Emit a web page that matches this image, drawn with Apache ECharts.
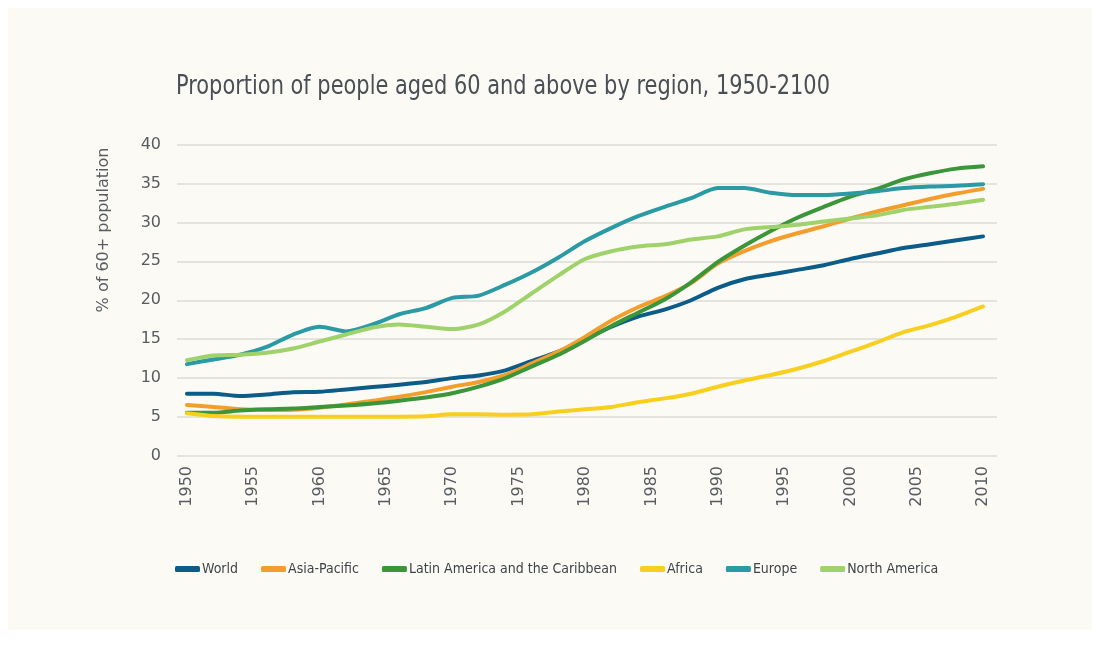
<!DOCTYPE html>
<html>
<head>
<meta charset="utf-8">
<script src="https://cdn.jsdelivr.net/npm/echarts@6/dist/echarts.min.js"></script>
<style>
  html, body { margin: 0; padding: 0; background: #ffffff; }
  #panel { position: absolute; left: 8px; top: 8px; width: 1084px; height: 622px; background: #fbfaf4; }
  #chart { position: absolute; left: 0; top: 0; width: 1100px; height: 645px; }
</style>
</head>
<body>
<div id="panel"></div>
<div id="chart"></div>
<script>
// Years sampled every two years
const years = [1950,1952,1954,1956,1958,1960,1962,1964,1966,1968,1970,1972,1974,1976,1978,1980,
               1982,1984,1986,1988,1990,1992,1994,1996,1998,2000,2002,2004,2006,2008,2010];
const xTickLabels = [1950,1955,1960,1965,1970,1975,1980,1985,1990,1995,2000,2005,2010];
const yTicks = [0,5,10,15,20,25,30,35,40];

const regionNames = ['World','Asia-Pacific','Latin America and the Caribbean','Africa','Europe','North America'];

// % of population aged 60+
const world = [8.0,8.0,7.7,7.9,8.2,8.25,8.55,8.85,9.15,9.5,10.0,10.35,11.0,12.2,13.4,15.0,
               16.6,17.9,18.8,20.0,21.6,22.7,23.3,23.9,24.5,25.3,26.0,26.7,27.2,27.7,28.2];
const asiaPacific = [6.55,6.3,6.0,5.9,5.95,6.2,6.6,7.1,7.6,8.2,8.9,9.5,10.4,11.9,13.4,15.3,
               17.4,19.1,20.5,22.2,24.7,26.3,27.6,28.6,29.5,30.5,31.4,32.2,33.0,33.7,34.3];
const latinAmerica = [5.55,5.55,5.85,6.0,6.1,6.3,6.5,6.75,7.1,7.5,8.05,8.9,10.0,11.5,13.0,14.8,
               16.7,18.4,20.1,22.3,24.9,27.0,28.9,30.6,32.0,33.3,34.3,35.5,36.3,36.9,37.2];
const africa = [5.5,5.15,5.05,5.05,5.05,5.05,5.05,5.05,5.05,5.1,5.35,5.35,5.3,5.35,5.7,6.0,
               6.3,6.9,7.4,8.0,8.9,9.7,10.4,11.2,12.2,13.4,14.6,15.9,16.8,17.9,19.2];
const europe = [11.8,12.4,13.0,14.0,15.6,16.6,16.0,16.9,18.2,19.0,20.3,20.6,22.0,23.6,25.5,27.6,
               29.3,30.8,32.0,33.1,34.4,34.4,33.8,33.5,33.5,33.7,34.0,34.4,34.6,34.7,34.9];
const northAmerica = [12.3,12.9,13.0,13.25,13.8,14.7,15.6,16.5,16.9,16.6,16.3,16.9,18.6,20.9,23.2,25.3,
               26.3,26.9,27.2,27.8,28.2,29.1,29.4,29.7,30.1,30.5,30.9,31.6,32.0,32.4,32.9];

const seriesValues = [world, asiaPacific, latinAmerica, africa, europe, northAmerica];
const colors = ['#0b5c88','#f29d2c','#3a9639','#f8cf1f','#2a9aa4','#9fd26a'];

const condensed = "'Liberation Sans Narrow','DejaVu Sans Condensed','Roboto Condensed',sans-serif";
const labelFont = "'DejaVu Sans',sans-serif";

const chart = echarts.init(document.getElementById('chart'), null, { renderer: 'canvas' });

chart.setOption({
  backgroundColor: 'transparent',
  animation: false,
  color: colors,
  graphic: [{
    // chart title, narrowed horizontally for a condensed look
    type: 'text',
    x: 176,
    y: 74,
    scaleX: 0.895,
    style: {
      text: 'Proportion of people aged 60 and above by region, 1950-2100',
      fontFamily: condensed,
      fontSize: 26,
      fill: '#4a4f55',
      textAlign: 'left',
      textVerticalAlign: 'top'
    }
  }, {
    type: 'text',
    x: 104,
    y: 230,
    rotation: Math.PI / 2,
    style: {
      text: '% of 60+ population',
      fontFamily: labelFont,
      fontSize: 16,
      fill: '#585c60',
      textAlign: 'center',
      textVerticalAlign: 'middle'
    }
  }],
  legend: {
    left: 170,
    top: 557,
    icon: 'roundRect',
    itemWidth: 25,
    itemHeight: 6,
    itemGap: 23,
    data: regionNames,
    textStyle: { fontFamily: condensed, fontSize: 14, color: '#3f4449', padding: [0, 0, 0, -3] }
  },
  grid: { left: 177, right: 103, top: 144.5, bottom: 189, containLabel: false },
  xAxis: {
    type: 'value',
    min: 1949.25,
    max: 2011.05,
    axisLine: { show: false },
    axisTick: { show: false },
    splitLine: { show: false },
    axisLabel: {
      customValues: xTickLabels,
      rotate: 90,
      margin: 10,
      fontFamily: labelFont,
      fontSize: 16,
      color: '#585c60',
      formatter: v => String(v)
    }
  },
  yAxis: {
    type: 'value',
    min: 0,
    max: 40,
    interval: 5,
    axisLine: { show: false },
    axisTick: { show: false },
    splitLine: { show: true, lineStyle: { color: '#dddcd8', width: 1.5 } },
    axisLabel: { margin: 16, fontFamily: labelFont, fontSize: 16, color: '#585c60' }
  },
  series: regionNames.map((name, i) => ({
    name: name,
    type: 'line',
    data: years.map((y, k) => [y, seriesValues[i][k]]),
    showSymbol: false,
    smooth: 0.25,
    lineStyle: { width: 4, cap: 'round', join: 'round' }
  }))
});
</script>
</body>
</html>
